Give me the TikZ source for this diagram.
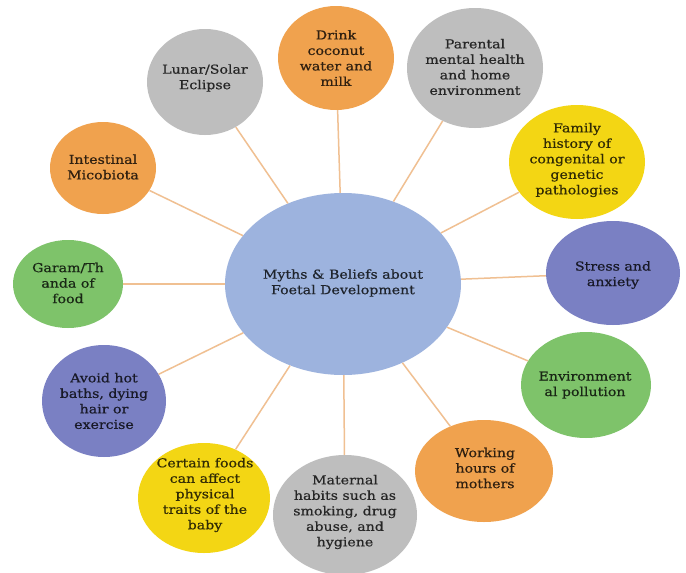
\documentclass[tikz,border=0pt]{standalone}
\usepackage{fontspec}
\setmainfont{DejaVu Serif}[FakeStretch=1.15,FakeBold=0.6]
\usetikzlibrary{shapes.geometric}
\definecolor{cblue}{HTML}{9DB3DE}
\definecolor{cgreen}{HTML}{7EC36A}
\definecolor{cgray}{HTML}{BEBEBE}
\definecolor{corange}{HTML}{F0A24E}
\definecolor{cyellow}{HTML}{F3D614}
\definecolor{cpurple}{HTML}{7A80C3}
\definecolor{clink}{HTML}{F0C092}
\tikzset{
  bubble/.style args={#1/#2/#3}{ellipse, draw=none, fill=#1, inner sep=0pt,
    minimum width=#2pt, minimum height=#3pt},
  btext/.style={align=center, font=\fontsize{12.3}{15.5}\selectfont, text=#1!20!black, inner sep=0pt},
  link/.style={draw=clink, line width=1.5pt}
}
\begin{document}
\begin{tikzpicture}[x=1pt, y=-1pt]
\useasboundingbox (0,0) rectangle (686,573);
\fill[white] (0,0) rectangle (686,573);

% hub
\node[bubble=cblue/236/182] (hub) at (343,284) {};

% surrounding bubbles
\node[bubble=cgray/116/106]   (eclipse)  at (205,82) {};
\node[bubble=corange/116/104] (coconut)  at (336,58) {};
\node[bubble=cgray/136/120]   (parental) at (475,68) {};
\node[bubble=cyellow/136/114] (family)   at (577,162) {};
\node[bubble=cpurple/134/104] (stress)   at (613,273) {};
\node[bubble=cgreen/130/106]  (pollution) at (586,385) {};
\node[bubble=corange/138/102] (working)  at (484,471) {};
\node[bubble=cgray/144/120]   (maternal) at (345,515) {};
\node[bubble=cyellow/132/110] (foods)    at (204,498) {};
\node[bubble=cpurple/124/112] (baths)    at (104,401) {};
\node[bubble=cgreen/110/88]   (garam)    at (68,284) {};
\node[bubble=corange/106/92]  (gut)      at (103,168) {};

% spokes
\foreach \n in {eclipse,coconut,parental,family,stress,pollution,working,maternal,foods,baths,garam,gut}
  \path[link] (hub) -- (\n);

% labels
\node[btext=cblue] (thub) at (343,283) {Myths \& Beliefs about\\Foetal Development};
\node[btext=cgray] (teclipse) at (205,78) {Lunar/Solar\\Eclipse};
\node[btext=corange] (tcoconut) at (336,58) {Drink\\coconut\\water and\\milk};
\node[btext=cgray] (tparental) at (475,67) {Parental\\mental health\\and home\\environment};
\node[btext=cyellow] (tfamily) at (577,160) {Family\\history of\\congenital or\\genetic\\pathologies};
\node[btext=cpurple] (tstress) at (613,275) {Stress and\\anxiety};
\node[btext=cgreen] (tpollution) at (585,385) {Environment\\al pollution};
\node[btext=corange] (tworking) at (485,468) {Working\\hours of\\mothers};
\node[btext=cgray] (tmaternal) at (345,512) {Maternal\\habits such as\\smoking, drug\\abuse, and\\hygiene};
\node[btext=cyellow] (tfoods) at (205,495) {Certain foods\\can affect\\physical\\traits of the\\baby};
\node[btext=cpurple] (tbaths) at (104,401) {Avoid hot\\baths, dying\\hair or\\exercise};
\node[btext=cgreen] (tgaram) at (68,283) {Garam/Th\\anda of\\food};
\node[btext=corange] (tgut) at (103,167) {Intestinal\\Micobiota};
\end{tikzpicture}
\end{document}
